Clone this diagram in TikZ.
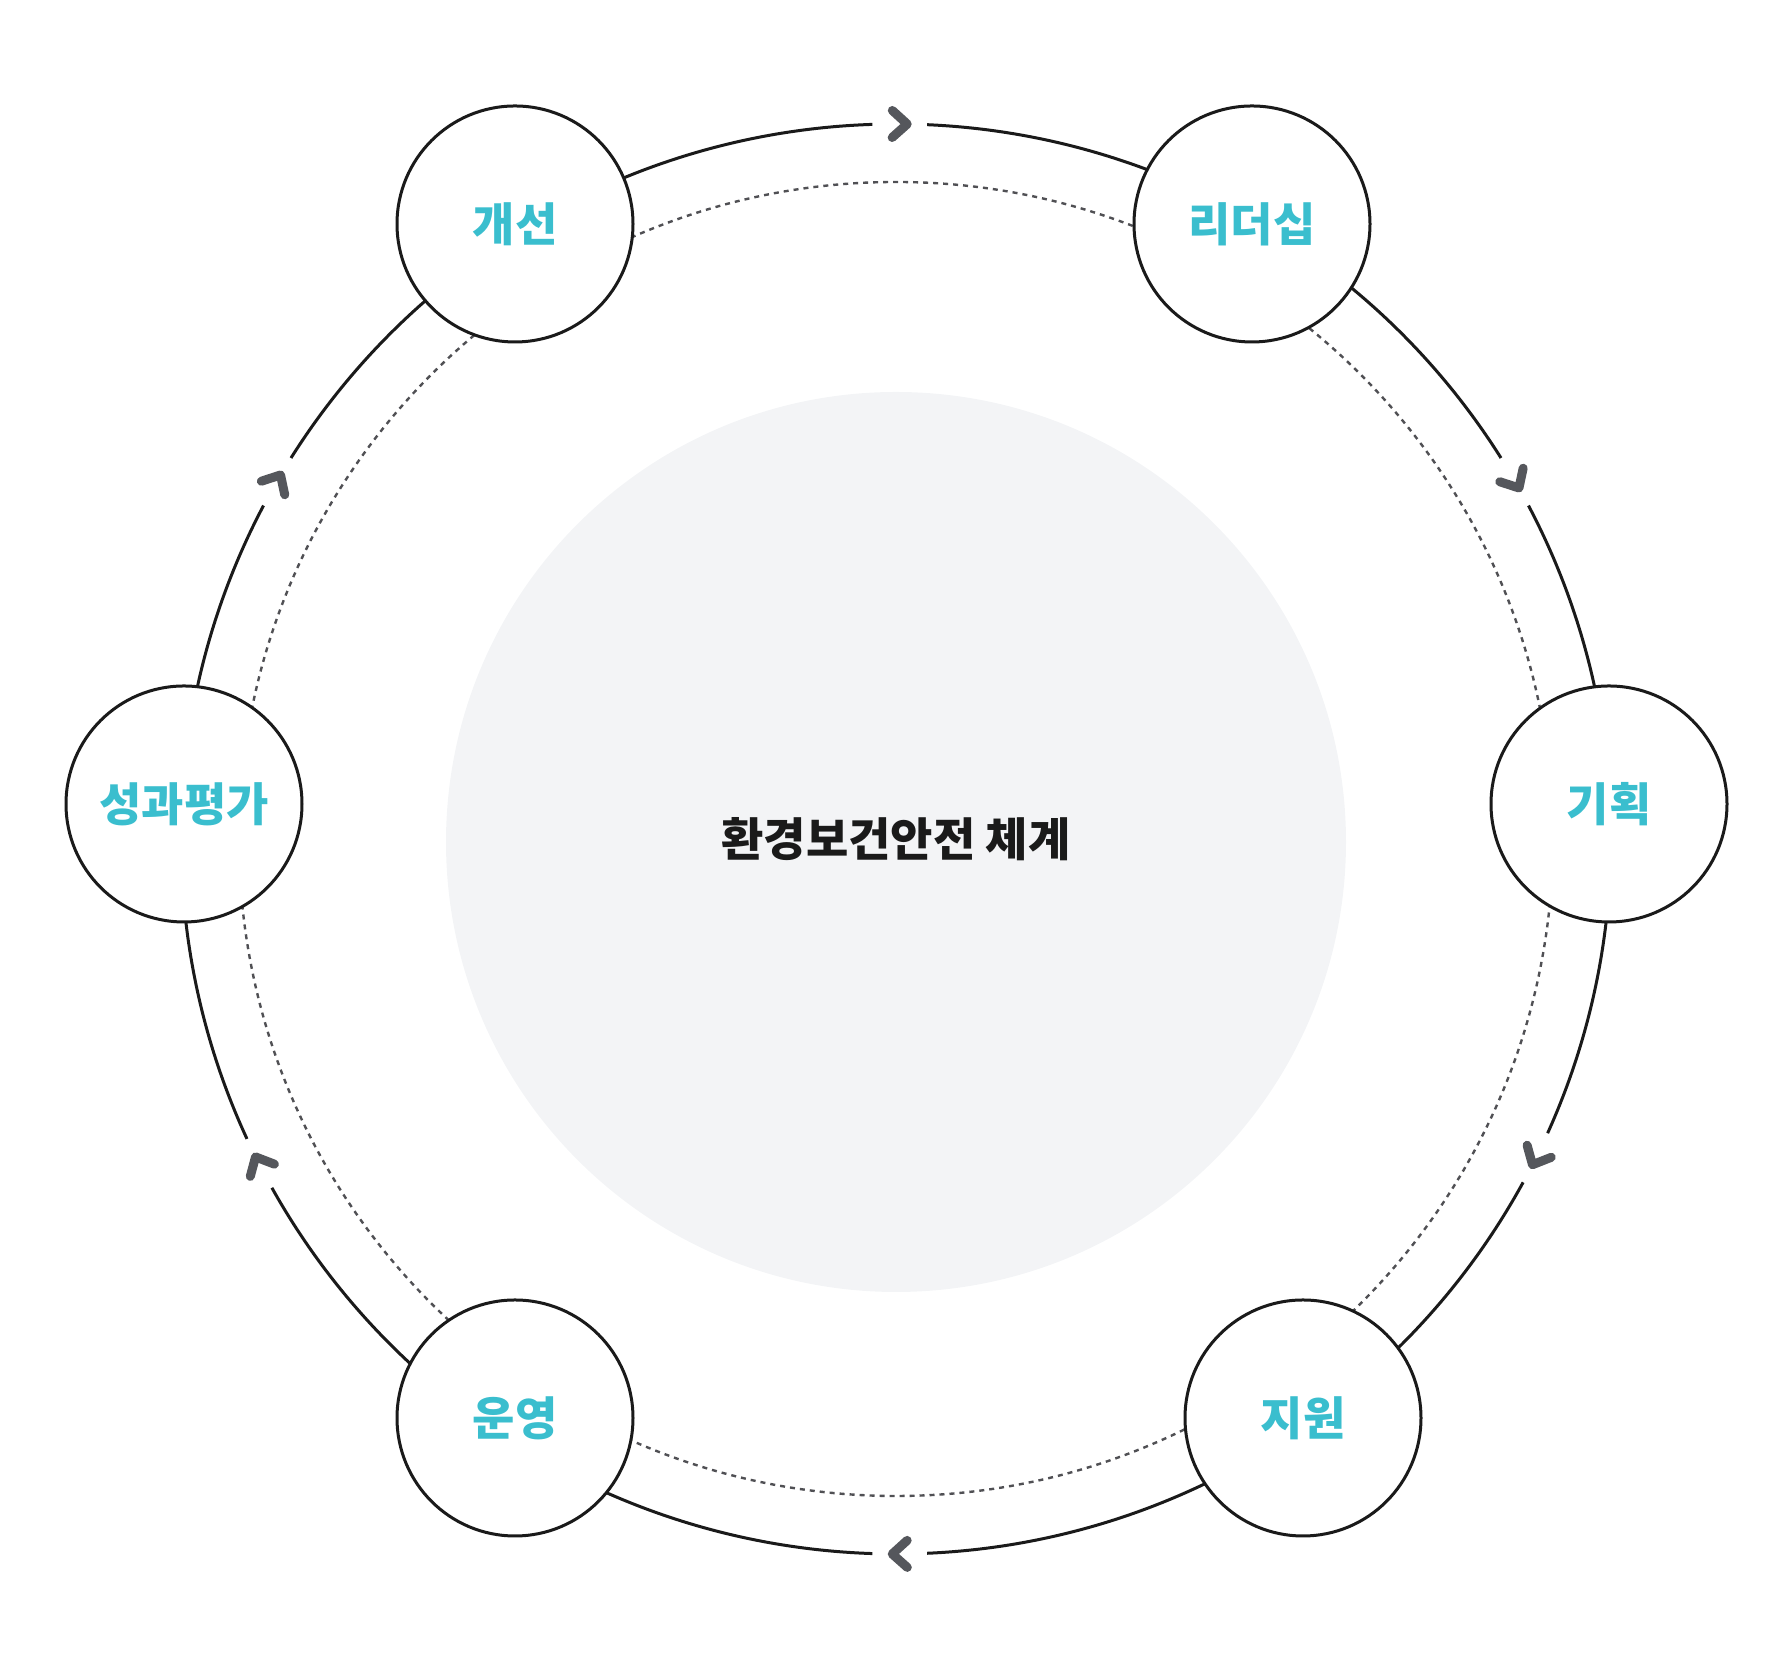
\documentclass[tikz,border=0pt]{standalone}
\usepackage{fontspec}
\setmainfont{Noto Sans CJK KR}
\usetikzlibrary{calc}

\definecolor{stagetext}{RGB}{58,190,206}
\definecolor{ringline}{RGB}{26,26,26}
\definecolor{dotline}{RGB}{80,80,84}
\definecolor{chevgray}{RGB}{85,87,92}
\definecolor{corefill}{RGB}{243,244,246}

\tikzset{
  chevron/.pic={\draw[chevgray, line width=4.5pt, line cap=round, line join=round] (-7.5,13.5) -- (7.5,0) -- (-7.5,-13.5);}
}

\begin{document}
\begin{tikzpicture}[x=0.5pt,y=0.5pt,
  stage/.style={circle, draw=ringline, line width=1.5pt, fill=white, minimum size=118pt, inner sep=0pt,
    text=stagetext, font=\fontsize{23}{27}\selectfont\bfseries},
  ring/.style={draw=ringline, line width=1.5pt},
  dotring/.style={draw=dotline, line width=1.2pt, dash pattern=on 2.5pt off 2.5pt}]
\useasboundingbox (0,0) rectangle (1785,1680);

\coordinate (c) at (896,841);

%Shape: Circle (core)
\fill[corefill] (896,838) circle (450);

%Shape: Circle (dotted)
\draw[dotring] (c) circle (657);

%Curve Lines (ring, broken at the arrows)
\foreach \a/\b in {-24.3/27.8, 32.2/87.5, 91.9/147.8, 152.2/204.8, 209.2/268.1, 272.5/331.3}
  \draw[ring] ($(c)+(\a:715)$) arc[start angle=\a, end angle=\b, radius=715];

%Arrows
\foreach \t in {89.7, 30, -26.5, -89.7, -153, 150}
  \pic[rotate=\t-90] at ($(c)+(\t:715)$) {chevron};

%Stages
\node[stage] (improve) at (515,1456) {개선};
\node[stage] (leader) at (1252,1456) {리더십};
\node[stage] (plan) at (1609,876) {기획};
\node[stage] (support) at (1303,262) {지원};
\node[stage] (operate) at (515,262) {운영};
\node[stage] (evaluate) at (184,876) {성과평가};

% Text Node
\node[text=ringline, font=\fontsize{23}{27}\selectfont\bfseries] (core) at (c) {환경보건안전 체계};

\end{tikzpicture}
\end{document}
